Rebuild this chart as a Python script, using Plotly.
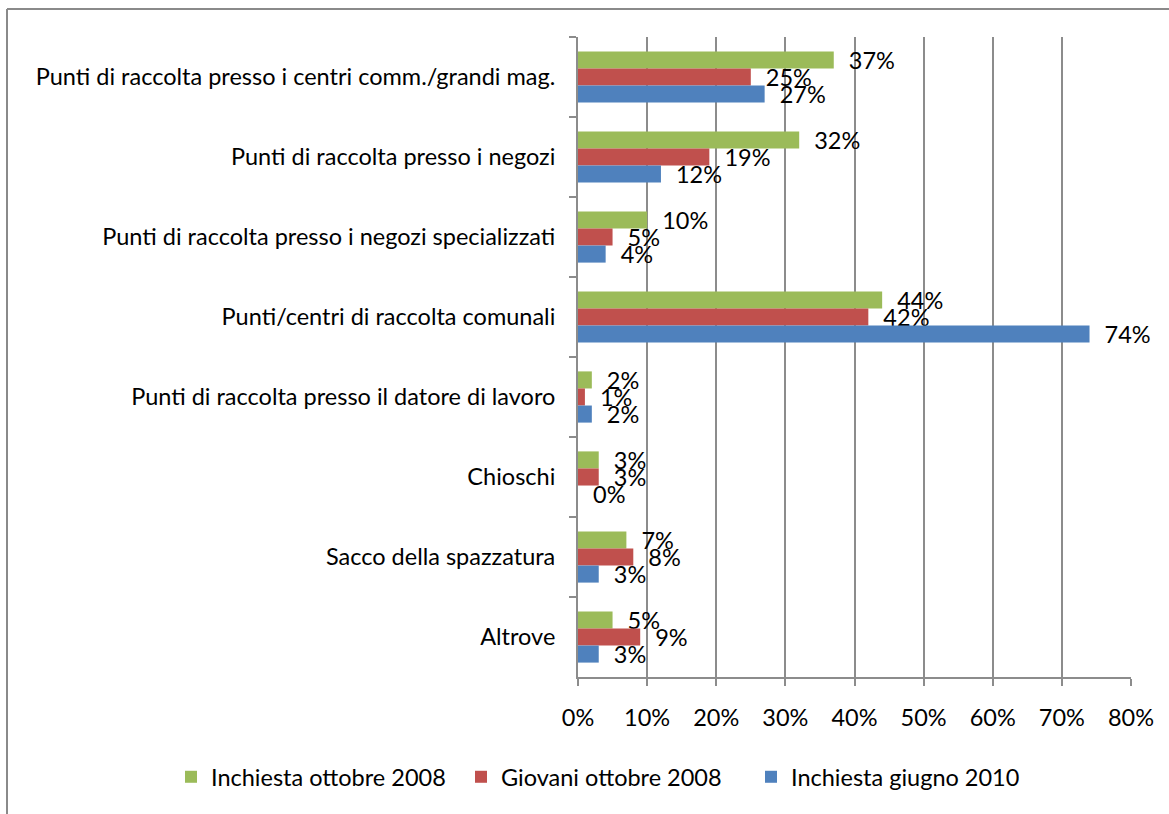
import plotly.graph_objects as go

CATEGORIES = [
    "Punti di raccolta presso i centri comm./grandi mag.",
    "Punti di raccolta presso i negozi",
    "Punti di raccolta presso i negozi specializzati",
    "Punti/centri di raccolta comunali",
    "Punti di raccolta presso il datore di lavoro",
    "Chioschi",
    "Sacco della spazzatura",
    "Altrove",
]

INCHIESTA_2008 = [37, 32, 10, 44, 2, 3, 7, 5]
GIOVANI_2008 = [25, 19, 5, 42, 1, 3, 8, 9]
INCHIESTA_2010 = [27, 12, 4, 74, 2, 0, 3, 3]

SERIES = [
    ("Inchiesta ottobre 2008", INCHIESTA_2008, "#9BBB59"),
    ("Giovani ottobre 2008", GIOVANI_2008, "#C0504D"),
    ("Inchiesta giugno 2010", INCHIESTA_2010, "#4F81BD"),
]

X_TICKS = [0, 10, 20, 30, 40, 50, 60, 70, 80]

FONT = "Lato"
FS = 23.5
GRID = "#8c8c8c"

fig = go.Figure()
for name, vals, color in SERIES:
    fig.add_trace(go.Bar(
        y=CATEGORIES,
        x=vals,
        name=name,
        orientation="h",
        marker=dict(color=color, line=dict(width=0)),
        text=["\u00a0\u00a0%d%%" % v for v in vals],
        textposition="outside",
        constraintext="none",
        cliponaxis=False,
        textfont=dict(family=FONT, size=FS, color="black"),
        hoverinfo="skip",
    ))

# page pixels -> paper coords (body margin is removed below)
W, H = 1169, 814
L, R, T, B = 578, 38, 37, 137
pw, ph = W - L - R, H - T - B


def px(x):
    return (x - L) / pw


def py(y):
    return 1 - (y - T) / ph


# chart border: only top and left edges show in the reference
fig.add_shape(type="line", xref="paper", yref="paper",
              x0=px(7), x1=px(W + 5), y0=py(9), y1=py(9),
              line=dict(color="#8a8a8a", width=2))
fig.add_shape(type="line", xref="paper", yref="paper",
              x0=px(7), x1=px(7), y0=py(9), y1=py(H + 5),
              line=dict(color="#8a8a8a", width=2))

fig.update_layout(
    width=W,
    height=H,
    barmode="group",
    bargap=0.36,
    bargroupgap=0,
    plot_bgcolor="white",
    paper_bgcolor="white",
    margin=dict(l=L, r=R, t=T, b=B, autoexpand=False),
    font=dict(family=FONT, size=FS, color="black"),
    showlegend=True,
    legend=dict(
        orientation="h",
        x=px(171), xanchor="left",
        y=py(777), yanchor="middle",
        font=dict(family=FONT, size=FS),
        entrywidth=245,
        tracegroupgap=0,
    ),
    xaxis=dict(
        range=[0, 80],
        tickvals=X_TICKS,
        ticktext=["%d%%" % t for t in X_TICKS],
        showgrid=True,
        gridcolor=GRID,
        gridwidth=1.5,
        zeroline=False,
        showline=True,
        linecolor=GRID,
        linewidth=2,
        ticks="outside",
        ticklen=7,
        tickcolor=GRID,
        tickwidth=1.5,
        ticklabelstandoff=12,
        tickfont=dict(family=FONT, size=FS),
    ),
    yaxis=dict(
        autorange="reversed",
        showgrid=False,
        zeroline=False,
        showline=True,
        linecolor=GRID,
        linewidth=2,
        ticks="outside",
        tickson="boundaries",
        ticklen=7,
        tickcolor=GRID,
        tickwidth=1.5,
        ticklabelstandoff=16,
        tickfont=dict(family=FONT, size=FS),
    ),
)

fig.write_html(
    "out.html",
    config={"displayModeBar": False},
    post_script="document.body.style.margin='0';",
)
